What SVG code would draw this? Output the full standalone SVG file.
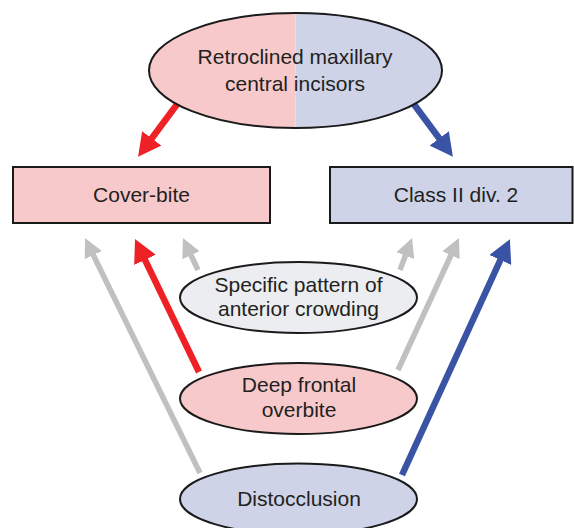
<svg xmlns="http://www.w3.org/2000/svg" width="574" height="528" viewBox="0 0 574 528">
<style>
.txt{font-family:"Liberation Sans",Arial,sans-serif;font-size:21px;fill:#231F20;text-anchor:middle}
.shape{stroke:#1A1A1A;stroke-width:2}
.pink{fill:#F8C9CB}
.blue{fill:#CED3E8}
.grey{fill:#ECEDF0}
.c-red{stroke:#EE2226;stroke-width:6.5;fill:none;marker-end:url(#mRed)}
.c-blue{stroke:#3A53A4;stroke-width:6.5;fill:none;marker-end:url(#mBlue)}
.c-grey{stroke:#C0C0C0;stroke-width:5.5;fill:none;marker-end:url(#mGrey)}
</style>
<defs>
<marker id="mRed" markerUnits="userSpaceOnUse" viewBox="0 0 20 20" markerWidth="23" markerHeight="24" refX="1" refY="10" orient="auto" preserveAspectRatio="none"><path d="M0,0 L20,10 L0,20 Z" fill="#EE2226"/></marker>
<marker id="mBlue" markerUnits="userSpaceOnUse" viewBox="0 0 20 20" markerWidth="23" markerHeight="24" refX="1" refY="10" orient="auto" preserveAspectRatio="none"><path d="M0,0 L20,10 L0,20 Z" fill="#3A53A4"/></marker>
<marker id="mGrey" markerUnits="userSpaceOnUse" viewBox="0 0 20 20" markerWidth="19" markerHeight="19" refX="1" refY="10" orient="auto" preserveAspectRatio="none"><path d="M0,0 L20,10 L0,20 Z" fill="#C0C0C0"/></marker>
</defs>
<rect width="574" height="528" fill="#FFFFFF"/>
<g id="connectors">
<line class="c-red" x1="178" y1="103" x2="151.1" y2="139.3"/>
<line class="c-blue" x1="413" y1="103" x2="439.9" y2="139.3"/>
<line class="c-grey" x1="200" y1="473" x2="92.9" y2="254.2"/>
<line class="c-red" x1="199" y1="372" x2="144.5" y2="258.8"/>
<line class="c-grey" x1="198" y1="270" x2="190.6" y2="254.3"/>
<line class="c-grey" x1="400" y1="270" x2="405.7" y2="254.8"/>
<line class="c-grey" x1="398" y1="370" x2="451.4" y2="254.3"/>
<line class="c-blue" x1="402" y1="475" x2="500.8" y2="259"/>
</g>
<g id="retroclined">
<path class="pink" d="M295.5,13 A146.5,57.5 0 0 0 295.5,128 Z"/>
<path class="blue" d="M295.5,13 A146.5,57.5 0 0 1 295.5,128 Z"/>
<ellipse class="shape" cx="295.5" cy="70.5" rx="146.5" ry="57.5" fill="none"/>
<text class="txt" x="295" y="64">Retroclined maxillary</text>
<text class="txt" x="295" y="91">central incisors</text>
</g>
<g id="coverbite">
<rect class="shape pink" x="13" y="167" width="257" height="56"/>
<text class="txt" x="141.5" y="202">Cover-bite</text>
</g>
<g id="class2">
<rect class="shape blue" x="330" y="167" width="242.5" height="56"/>
<text class="txt" x="456" y="202">Class II div. 2</text>
</g>
<g id="crowding">
<ellipse class="shape grey" cx="298.5" cy="297.5" rx="118.5" ry="35.5"/>
<text class="txt" x="298.5" y="292">Specific pattern of</text>
<text class="txt" x="298.5" y="316">anterior crowding</text>
</g>
<g id="overbite">
<ellipse class="shape pink" cx="298.5" cy="398.5" rx="118.5" ry="35.5"/>
<text class="txt" x="299" y="392">Deep frontal</text>
<text class="txt" x="299" y="417">overbite</text>
</g>
<g id="distocclusion">
<ellipse class="shape blue" cx="298.5" cy="499" rx="118.5" ry="35.5"/>
<text class="txt" x="299" y="506">Distocclusion</text>
</g>
</svg>
